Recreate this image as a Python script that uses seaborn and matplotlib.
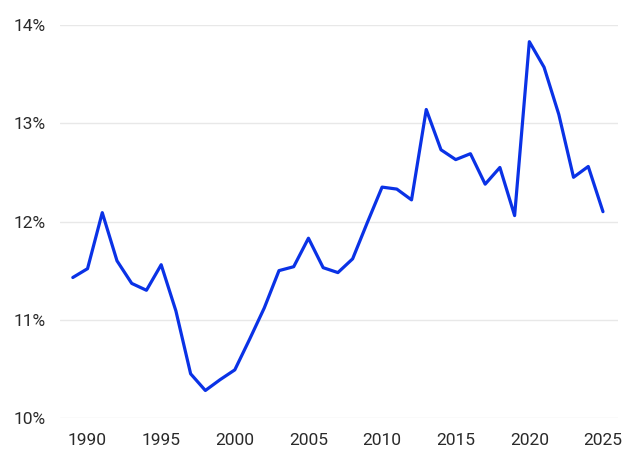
import numpy as np
import pandas as pd
import matplotlib
matplotlib.use("Agg")
import matplotlib.pyplot as plt
import seaborn as sns
from matplotlib.ticker import FuncFormatter

years = list(range(1989, 2026))
rates = [11.43, 11.52, 12.09, 11.60, 11.37, 11.30, 11.56, 11.09, 10.45, 10.28,
         10.39, 10.49, 10.80, 11.12, 11.50, 11.54, 11.83, 11.53, 11.48, 11.62,
         11.99, 12.35, 12.33, 12.22, 13.14, 12.73, 12.63, 12.69, 12.38, 12.55,
         12.06, 13.83, 13.57, 13.09, 12.45, 12.56, 12.10]
x_ticks = [1990, 1995, 2000, 2005, 2010, 2015, 2020, 2025]
y_ticks = [10, 11, 12, 13, 14]

df = pd.DataFrame({"year": years, "rate": rates})

sns.set_style("white")
plt.rcParams["font.family"] = ["Roboto", "DejaVu Sans"]

fig = plt.figure(figsize=(6.4, 4.66), dpi=100)
ax = fig.add_axes([60 / 640, 1 - 418 / 466, 558 / 640, 393 / 466])

sns.lineplot(data=df, x="year", y="rate", ax=ax, color="#0a32e6", linewidth=2.3)

ax.set_xlim(1988.13, 2026.02)
ax.set_ylim(10, 14)
ax.set_xticks(x_ticks)
ax.set_yticks(y_ticks)
ax.yaxis.set_major_formatter(FuncFormatter(lambda v, p: f"{v:.0f}%"))
ax.grid(axis="y", color="#e8e8e8", linewidth=1)
ax.set_axisbelow(True)
for s in ax.spines.values():
    s.set_visible(False)
ax.set_xlabel("")
ax.set_ylabel("")
ax.tick_params(axis="x", length=8, width=1, color="#e8e8e8", labelsize=12.5,
               labelcolor="#2a2a2a", pad=3)
ax.tick_params(axis="y", length=0, labelsize=12.5, labelcolor="#2a2a2a", pad=10)

fig.savefig("out.png", dpi=100)
